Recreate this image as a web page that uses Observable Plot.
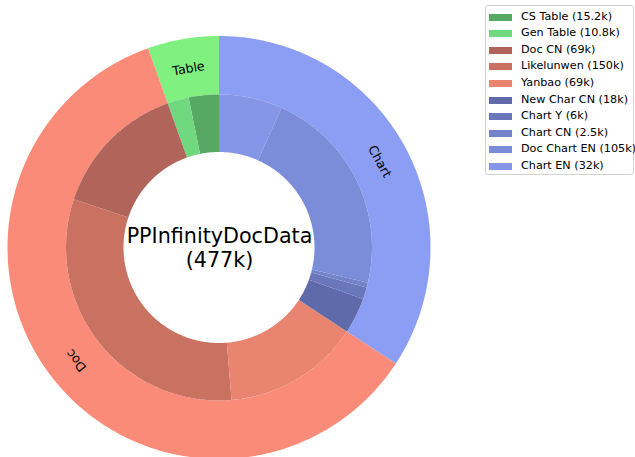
<!DOCTYPE html>
<html>
<head>
<meta charset="utf-8">
<script src="https://cdn.jsdelivr.net/npm/d3@7"></script>
<script src="https://cdn.jsdelivr.net/npm/@observablehq/plot@0.6"></script>
<style>
  html, body { margin: 0; padding: 0; background: #fff; }
  #wrap { position: relative; width: 635px; height: 457px; overflow: hidden; font-family: "DejaVu Sans", sans-serif; }
  #legend { position: absolute; left: 485px; top: 5px; width: 149px; height: 170px; box-sizing: border-box; border: 1px solid #d3d3d3; border-radius: 3px; background: rgba(255,255,255,0.8); }
  .sw { position: absolute; width: 23px; height: 7px; }
  .lt { position: absolute; font-size: 11.2px; line-height: 12px; color: #000; white-space: nowrap; }
</style>
</head>
<body>
<div id="wrap"></div>
<script>
// ---- data ----
const outerLabels = ["Table", "Doc", "Chart"];
const outerValues = [26, 288, 163.5];
const outerColors = ["#80f080", "#fa8b78", "#8c9ef4"];

const innerLabels = ["CS Table (15.2k)", "Gen Table (10.8k)", "Doc CN (69k)", "Likelunwen (150k)", "Yanbao (69k)",
  "New Char CN (18k)", "Chart Y (6k)", "Chart CN (2.5k)", "Doc Chart EN (105k)", "Chart EN (32k)"];
const innerValues = [15.2, 10.8, 69, 150, 69, 18, 6, 2.5, 105, 32];
const innerColors = ["#56a862", "#70d87f", "#b0645a", "#c97262", "#e8846f",
  "#5f6aab", "#6a78bb", "#7482c9", "#7b8cd9", "#8595e8"];

const centerLines = ["PPInfinityDocData", "(477k)"];

// ---- geometry (in pixel-unit data space) ----
const R_OUT = 211.5, R_MID = 153, R_IN = 95.5, R_LABEL = 182;
const startAngle = 90;

function ringRows(values, colors, rIn, rOut) {
  const total = d3.sum(values);
  const rows = [];
  let a = startAngle;
  values.forEach((v, i) => {
    const span = v / total * 360;
    const n = Math.max(2, Math.ceil(span / 0.5));
    for (let k = 0; k <= n; k++) {
      const t = (a + span * k / n) * Math.PI / 180;
      rows.push({slice: i, color: colors[i],
        x1: rOut * Math.cos(t), y1: rOut * Math.sin(t),
        x2: rIn * Math.cos(t), y2: rIn * Math.sin(t)});
    }
    a += span;
  });
  return rows;
}

const outerRows = ringRows(outerValues, outerColors, R_MID, R_OUT);
const innerRows = ringRows(innerValues, innerColors, R_IN, R_MID);

const totalOuter = d3.sum(outerValues);
let acc = startAngle;
const labelRows = outerLabels.map((name, i) => {
  const span = outerValues[i] / totalOuter * 360;
  const mid = acc + span / 2;
  acc += span;
  const t = mid * Math.PI / 180;
  return {name, x: R_LABEL * Math.cos(t), y: R_LABEL * Math.sin(t), rot: 90 - mid};
});

const centerRows = centerLines.map((s, i) => ({s, x: 0, y: 12 - i * 24.5}));

const W = 635, H = 457, CX = 219, CY = 247.5;

const chart = Plot.plot({
  width: W, height: H,
  margin: 0,
  x: {domain: [-CX, W - CX], range: [0, W], axis: null},
  y: {domain: [-(H - CY), CY], range: [H, 0], axis: null},
  color: {type: "identity"},
  style: {fontFamily: "DejaVu Sans, sans-serif", background: "transparent"},
  marks: [
    Plot.area(outerRows, {x1: "x1", y1: "y1", x2: "x2", y2: "y2", z: "slice", fill: "color"}),
    Plot.area(innerRows, {x1: "x1", y1: "y1", x2: "x2", y2: "y2", z: "slice", fill: "color"}),
    Plot.text(labelRows, {x: "x", y: "y", text: "name", rotate: "rot", fontSize: 12.6, fill: "black"}),
    Plot.text(centerRows, {x: "x", y: "y", text: "s", fontSize: 20.7, fill: "black"})
  ]
});

const wrap = document.getElementById("wrap");
wrap.appendChild(chart);

const legend = document.createElement("div");
legend.id = "legend";
wrap.appendChild(legend);
innerLabels.forEach((name, i) => {
  const cy = 16 + i * 16.6 - 5;
  const sw = document.createElement("div");
  sw.className = "sw";
  sw.style.left = (489 - 486) + "px";
  sw.style.top = (cy - 3.5) + "px";
  sw.style.background = innerColors[i];
  legend.appendChild(sw);
  const t = document.createElement("div");
  t.className = "lt";
  t.style.left = (521 - 486) + "px";
  t.style.top = (cy - 6.5) + "px";
  t.textContent = name;
  legend.appendChild(t);
});
</script>
</body>
</html>
